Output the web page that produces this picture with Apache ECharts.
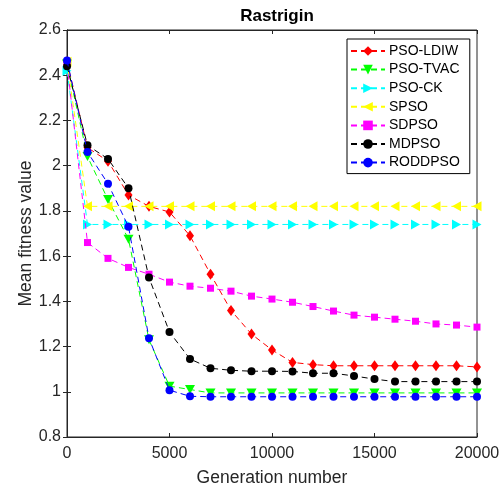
<!DOCTYPE html>
<html><head><meta charset="utf-8">
<script src="https://cdn.jsdelivr.net/npm/echarts@6/dist/echarts.min.js"></script>
<style>html,body{margin:0;padding:0;background:#fff}#c{width:502px;height:489px}</style>
</head><body><div id="c"></div>
<script>
const generations = [0,1000,2000,3000,4000,5000,6000,7000,8000,9000,10000,11000,12000,13000,14000,15000,16000,17000,18000,19000,20000];
const psoLDIW  = [2.46,2.08,2.02,1.87,1.82,1.795,1.69,1.52,1.36,1.255,1.185,1.13,1.12,1.115,1.115,1.115,1.115,1.115,1.115,1.115,1.11];
const psoTVAC  = [2.45,2.04,1.85,1.675,1.23,1.025,1.01,0.995,0.995,0.995,0.995,0.995,0.995,0.995,0.995,0.995,0.995,0.995,0.995,0.995,0.995];
const psoCK    = [2.42,1.74,1.74,1.74,1.74,1.74,1.74,1.74,1.74,1.74,1.74,1.74,1.74,1.74,1.74,1.74,1.74,1.74,1.74,1.74,1.74];
const spso     = [2.46,1.82,1.82,1.82,1.82,1.82,1.82,1.82,1.82,1.82,1.82,1.82,1.82,1.82,1.82,1.82,1.82,1.82,1.82,1.82,1.82];
const sdpso    = [2.45,1.66,1.59,1.55,1.52,1.485,1.467,1.458,1.445,1.423,1.41,1.396,1.377,1.357,1.339,1.33,1.321,1.312,1.30,1.295,1.286];
const mdpso    = [2.44,2.09,2.03,1.90,1.505,1.264,1.145,1.104,1.095,1.091,1.091,1.09,1.082,1.082,1.07,1.056,1.045,1.045,1.045,1.045,1.045];
const roddpso  = [2.465,2.06,1.92,1.73,1.237,1.007,0.98,0.978,0.978,0.978,0.978,0.978,0.978,0.978,0.978,0.978,0.978,0.978,0.978,0.978,0.978];
const seriesNames = ['PSO-LDIW','PSO-TVAC','PSO-CK','SPSO','SDPSO','MDPSO','RODDPSO'];
const yTicks = [0.8,1,1.2,1.4,1.6,1.8,2,2.2,2.4,2.6];
const xTicks = [0,5000,10000,15000,20000];

const seriesData = [psoLDIW,psoTVAC,psoCK,spso,sdpso,mdpso,roddpso];
const colors = ['#ff0000','#00ff00','#00ffff','#ffff00','#ff00ff','#000000','#0000ff'];
const symbols = ['diamond','path://M0,0 L10,0 L5,9 Z','path://M0,0 L9,5 L0,10 Z','path://M9,0 L0,5 L9,10 Z','rect','circle','circle'];
const sizes = [[8,11],[10,9],[9,10],[9,10],[7,7],[8,8],[8,8]];

const font = 'Liberation Sans, Arial, Helvetica, sans-serif';
const chart = echarts.init(document.getElementById('c'), null, {renderer:'canvas'});
const axisCol = '#262626';
chart.setOption({
  animation:false,
  backgroundColor:'#fff',
  title:{text:'Rastrigin',left:272,top:3,textAlign:'center',textStyle:{fontFamily:font,fontSize:17,fontWeight:'bold',color:'#000'}},
  grid:{left:67,right:25,top:30,bottom:52,containLabel:false,outerBoundsMode:'none',show:true,borderColor:axisCol,borderWidth:1,backgroundColor:'#fff'},
  legend:{
    orient:'vertical',left:347,top:39,
    data:seriesNames,
    itemWidth:34,itemHeight:12,itemGap:4.6,
    padding:[5,10,4,3],
    borderColor:'#000',borderWidth:1,backgroundColor:'#fff',
    textStyle:{fontFamily:font,fontSize:14,color:'#000',padding:[0,0,0,-1]}
  },
  xAxis:[{
    type:'value',min:0,max:20000,interval:5000,
    name:'Generation number',nameLocation:'middle',nameGap:32,nameMoveOverlap:false,
    nameTextStyle:{fontFamily:font,fontSize:17.5,color:'#262626'},
    axisLine:{show:true,lineStyle:{color:axisCol}},
    axisTick:{show:true,inside:true,length:4,lineStyle:{color:axisCol}},
    axisLabel:{fontFamily:font,fontSize:16,color:'#262626',margin:9,formatter:v=>String(v)},
    splitLine:{show:false}
  },{
    type:'value',min:0,max:20000,interval:5000,position:'top',
    axisLine:{show:true,lineStyle:{color:axisCol}},
    axisTick:{show:true,inside:true,length:4,lineStyle:{color:axisCol}},
    axisLabel:{show:false},splitLine:{show:false}
  }],
  yAxis:[{
    type:'value',min:0.8,max:2.6,interval:0.2,
    name:'Mean fitness value',nameLocation:'middle',nameGap:32,nameMoveOverlap:false,
    nameTextStyle:{fontFamily:font,fontSize:17.5,color:'#262626'},
    axisLine:{show:true,lineStyle:{color:axisCol}},
    axisTick:{show:true,inside:true,length:4,lineStyle:{color:axisCol}},
    axisLabel:{fontFamily:font,fontSize:16,color:'#262626',margin:6,formatter:v=>String(Math.round(v*10)/10)},
    splitLine:{show:false}
  },{
    type:'value',min:0.8,max:2.6,interval:0.2,position:'right',
    axisLine:{show:true,lineStyle:{color:axisCol}},
    axisTick:{show:true,inside:true,length:4,lineStyle:{color:axisCol}},
    axisLabel:{show:false},splitLine:{show:false}
  }],
  series:seriesNames.map((n,i)=>({
    name:n,type:'line',xAxisIndex:0,yAxisIndex:0,
    data:generations.map((g,j)=>[g,seriesData[i][j]]),
    symbol:symbols[i],symbolSize:sizes[i],showAllSymbol:true,
    lineStyle:{color:colors[i],width:1,type:[6,4]},
    itemStyle:{color:colors[i],borderWidth:0},
    emphasis:{disabled:true},
    z:2+i
  }))
});
</script></body></html>
